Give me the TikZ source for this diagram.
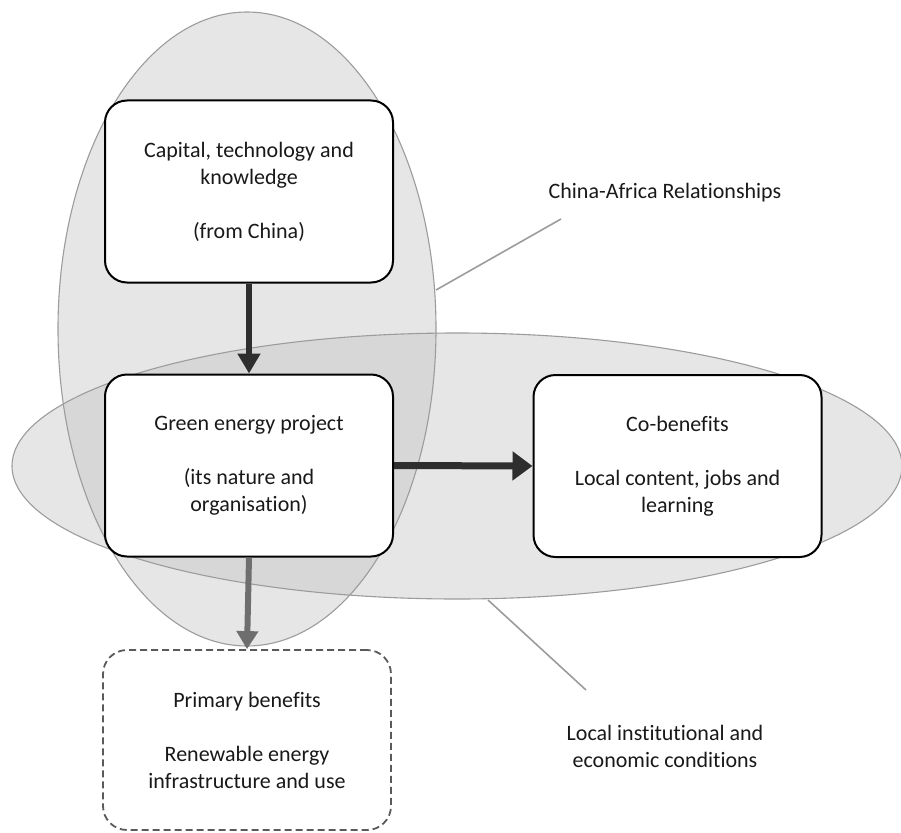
\documentclass[tikz,border=0pt]{standalone}
\usepackage{fontspec}
\setmainfont{Carlito}[Ligatures=NoCommon]
\usetikzlibrary{arrows.meta}
\definecolor{ellfill}{HTML}{E6E6E6}
\definecolor{ellover}{HTML}{D7D7D7}
\definecolor{elldraw}{HTML}{9C9C9C}
\definecolor{darkarrow}{HTML}{2E2E2E}
\definecolor{grayarrow}{HTML}{6E6E6E}
\definecolor{dashgray}{HTML}{5A5A5A}
\begin{document}
\begin{tikzpicture}[x=1pt,y=-1pt,
  txt/.style={font=\fontsize{22}{27}\selectfont, align=center, text=black!90},
  mainbox/.style={txt, draw=black, line width=2pt, fill=white, rounded corners=22pt, minimum width=288pt, minimum height=182pt, inner sep=0pt},
  dashbox/.style={txt, draw=dashgray, line width=1.8pt, dash pattern=on 7pt off 4pt, fill=white, rounded corners=24pt, minimum width=288pt, minimum height=180pt, inner sep=0pt},
  pointer/.style={draw=elldraw, line width=1.6pt},
  darrow/.style={draw=darkarrow, line width=6pt, -{Triangle[length=20pt,width=22pt]}},
  harrow/.style={draw=darkarrow, line width=7pt, -{Triangle[length=20pt,width=28pt]}},
  garrow/.style={draw=grayarrow, line width=6pt, -{Triangle[length=18pt,width=21pt]}},
]
\useasboundingbox (0,0) rectangle (901,832);
% ellipses
\fill[ellfill] (247,329) ellipse [x radius=189, y radius=317];
\fill[ellfill] (457,466) ellipse [x radius=445, y radius=133];
\begin{scope}
  \clip (247,329) ellipse [x radius=189, y radius=317];
  \fill[ellover] (457,466) ellipse [x radius=445, y radius=133];
\end{scope}
\draw[elldraw, line width=1.1pt] (247,329) ellipse [x radius=189, y radius=317];
\draw[elldraw, line width=1.1pt] (457,466) ellipse [x radius=445, y radius=133];
% pointer lines
\coordinate (caS) at (436,290);
\coordinate (caE) at (561,219);
\coordinate (liS) at (488,600);
\coordinate (liE) at (586,690);
\draw[pointer] (caS) -- (caE);
\draw[pointer] (liS) -- (liE);
% boxes
\node[mainbox] (cap) at (249,191.5) {Capital, technology and\\ knowledge\\[27pt] (from China)};
\node[mainbox] (green) at (249,465.5) {Green energy project\\[27pt] (its nature and\\ organisation)};
\node[mainbox] (cob) at (677.5,466) {Co-benefits\\[27pt] Local content, jobs and\\ learning};
\node[dashbox] (prim) at (247,740) {Primary benefits\\[27pt] Renewable energy\\ infrastructure and use};
% arrows
\draw[darrow] (cap.south) -- (green.north);
\draw[harrow] (green.east) -- (cob.west);
\draw[garrow] (green.south) -- (prim.north);
% labels
\node[txt] (calab) at (665,193) {China-Africa Relationships};
\node[txt] (lilab) at (665,746) {Local institutional and\\ economic conditions};
\end{tikzpicture}
\end{document}
